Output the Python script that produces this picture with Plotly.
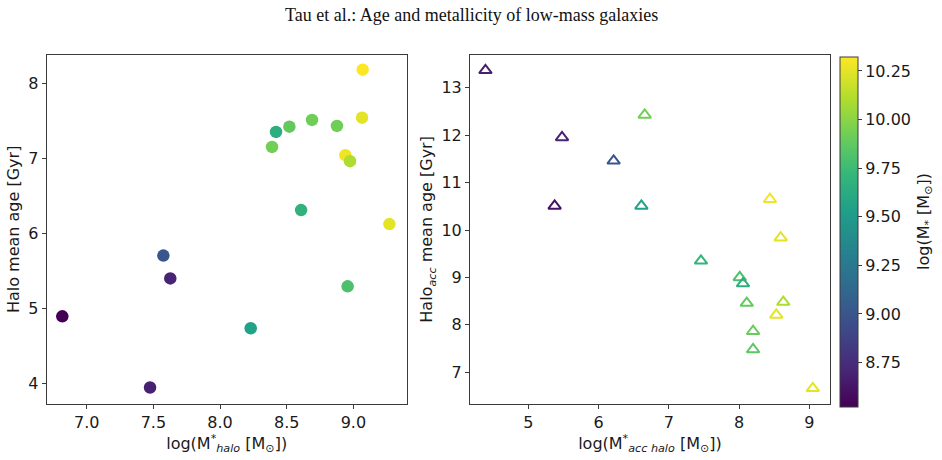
import plotly.graph_objects as go

# Left panel: halo stellar mass vs halo mean age
halo_logm = [6.817, 7.475, 7.575, 7.627, 8.23, 8.608, 8.39, 8.42, 8.52, 8.69, 8.877, 9.065, 9.07, 8.94, 8.975, 8.957, 9.27]
halo_age = [4.89, 3.94, 5.70, 5.395, 4.73, 6.307, 7.15, 7.35, 7.42, 7.51, 7.43, 7.54, 8.18, 7.04, 6.96, 5.29, 6.12]
halo_mstar = [8.52, 8.68, 9.00, 8.70, 9.55, 9.68, 9.93, 9.65, 9.88, 9.92, 9.92, 10.25, 10.32, 10.28, 10.10, 9.80, 10.25]

# Right panel: accreted halo stellar mass vs accreted halo mean age
acc_logm = [4.39, 6.657, 5.48, 6.215, 5.375, 6.61, 8.44, 8.593, 7.458, 8.01, 8.056, 8.11, 8.63, 8.53, 8.20, 8.20, 9.05]
acc_age = [13.37, 12.43, 11.955, 11.46, 10.51, 10.51, 10.65, 9.84, 9.35, 9.0, 8.87, 8.46, 8.48, 8.21, 7.865, 7.48, 6.66]
acc_mstar = [8.68, 9.93, 8.70, 9.00, 8.60, 9.55, 10.28, 10.25, 9.70, 9.80, 9.65, 9.88, 10.10, 10.25, 9.90, 9.85, 10.25]

cb_ticks = [8.75, 9.00, 9.25, 9.50, 9.75, 10.00, 10.25]
cmin, cmax = 8.52, 10.32

W, H = 942, 460
FONT = "DejaVu Sans"
TXT = "#1a1a1a"
LINE = "#3a3a3a"

fig = go.Figure()
fig.add_trace(go.Scatter(
    x=halo_logm, y=halo_age, mode="markers", xaxis="x", yaxis="y",
    marker=dict(size=12.5, color=halo_mstar, colorscale="Viridis", cmin=cmin, cmax=cmax,
                line=dict(width=0), showscale=False),
    showlegend=False))
fig.add_trace(go.Scatter(
    x=acc_logm, y=acc_age, mode="markers", xaxis="x2", yaxis="y2",
    marker=dict(size=11, symbol="triangle-up-open", color=acc_mstar, colorscale="Viridis",
                cmin=cmin, cmax=cmax, line=dict(width=2),
                showscale=True,
                colorbar=dict(
                    x=840 / W, xanchor="left", xpad=0, ypad=0,
                    y=(H - 57.3) / H, yanchor="top", lenmode="pixels", len=350,
                    thickness=18, thicknessmode="pixels",
                    outlinewidth=1, outlinecolor=LINE,
                    tickvals=cb_ticks, tickformat=".2f", ticks="outside", ticklen=4,
                    tickcolor=LINE, tickfont=dict(family=FONT, size=16, color=TXT))),
    showlegend=False))

ydom = [(H - 404) / H, (H - 54.7) / H]
axis_common = dict(showline=True, mirror=True, linecolor=LINE, linewidth=1,
                   showgrid=False, zeroline=False, ticks="outside", ticklen=4,
                   tickcolor=LINE, tickfont=dict(family=FONT, size=16, color=TXT))

fig.update_layout(
    width=W, height=H, margin=dict(l=0, r=0, t=0, b=0),
    paper_bgcolor="white", plot_bgcolor="white",
    xaxis=dict(domain=[46.7 / W, 406.7 / W], range=[6.70, 9.40], anchor="y",
               tickvals=[7.0, 7.5, 8.0, 8.5, 9.0], tickformat=".1f",
               title=dict(text="log(M<sup>*</sup><sub><i>halo</i></sub> [M<sub>⊙</sub>])",
                          font=dict(family=FONT, size=16, color=TXT), standoff=4),
               **axis_common),
    yaxis=dict(domain=ydom, range=[3.72, 8.38], anchor="x",
               tickvals=[4, 5, 6, 7, 8],
               title=dict(text="Halo mean age [Gyr]",
                          font=dict(family=FONT, size=16, color=TXT), standoff=4),
               **axis_common),
    xaxis2=dict(domain=[470 / W, 830 / W], range=[4.17, 9.295], anchor="y2",
                tickvals=[5, 6, 7, 8, 9],
                title=dict(text="log(M<sup>*</sup><sub><i>acc halo</i></sub> [M<sub>⊙</sub>])",
                           font=dict(family=FONT, size=16, color=TXT), standoff=4),
                **axis_common),
    yaxis2=dict(domain=ydom, range=[6.33, 13.70], anchor="x2",
                tickvals=[7, 8, 9, 10, 11, 12, 13],
                title=dict(text="Halo<sub><i>acc</i></sub> mean age [Gyr]",
                           font=dict(family=FONT, size=16, color=TXT), standoff=4),
                **axis_common),
    annotations=[
        dict(text="Tau et al.: Age and metallicity of low-mass galaxies",
             x=0.5, y=(H - 15) / H, xref="paper", yref="paper",
             xanchor="center", yanchor="middle", showarrow=False,
             font=dict(family="Liberation Serif", size=18, color="#111")),
        dict(text="log(M<sub>*</sub> [M<sub>⊙</sub>])", textangle=-90,
             x=924 / W, y=(H - 222) / H, xref="paper", yref="paper",
             xanchor="center", yanchor="middle", showarrow=False,
             font=dict(family=FONT, size=16, color=TXT)),
    ],
)

fig.write_html("out.html")
